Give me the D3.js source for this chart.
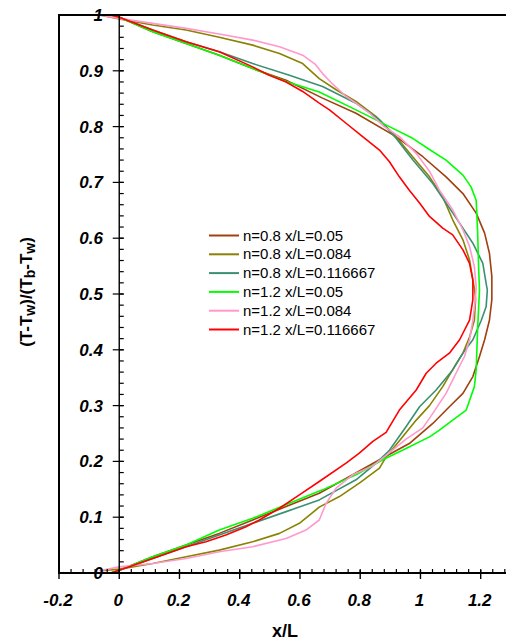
<!DOCTYPE html>
<html>
<head>
<meta charset="utf-8">
<script src="https://cdn.jsdelivr.net/npm/d3@7"></script>
<style>
  html, body { margin: 0; padding: 0; background: #fff; overflow: hidden; }
  svg { display: block; }
</style>
</head>
<body>
<svg id="chart" width="506" height="641"></svg>
<script>
// Dimensionless temperature profiles: [x/L, (T-Tw)/(Tb-Tw)]
const n08_x0050 = [[-0.028,0],[0,0.005],[0.111,0.029],[0.222,0.050],[0.332,0.071],[0.443,0.095],[0.554,0.119],[0.664,0.143],[0.775,0.176],[0.864,0.203],[0.963,0.232],[1.041,0.268],[1.096,0.298],[1.141,0.322],[1.174,0.352],[1.196,0.388],[1.213,0.418],[1.229,0.453],[1.237,0.49],[1.237,0.531],[1.229,0.573],[1.213,0.609],[1.185,0.645],[1.141,0.680],[1.085,0.710],[1.008,0.746],[0.919,0.782],[0.786,0.824],[0.675,0.851],[0.554,0.883],[0.443,0.904],[0.332,0.928],[0.222,0.949],[0.111,0.970],[0,0.996],[-0.028,1]];
const n08_x0084 = [[-0.06,0.004],[0,0.007],[0.111,0.017],[0.222,0.029],[0.332,0.041],[0.443,0.056],[0.532,0.071],[0.598,0.089],[0.664,0.118],[0.731,0.137],[0.797,0.161],[0.864,0.188],[0.886,0.208],[0.941,0.244],[0.986,0.274],[1.030,0.300],[1.074,0.334],[1.113,0.370],[1.141,0.394],[1.163,0.423],[1.179,0.453],[1.183,0.49],[1.180,0.507],[1.174,0.525],[1.163,0.561],[1.141,0.597],[1.107,0.633],[1.074,0.674],[1.030,0.710],[0.974,0.746],[0.919,0.782],[0.853,0.818],[0.786,0.845],[0.720,0.866],[0.664,0.886],[0.609,0.913],[0.532,0.931],[0.443,0.946],[0.332,0.960],[0.222,0.973],[0.111,0.982],[0,0.993],[-0.066,1]];
const n08_x0117 = [[-0.028,0],[0,0.005],[0.111,0.026],[0.222,0.047],[0.332,0.068],[0.443,0.089],[0.554,0.110],[0.664,0.131],[0.786,0.167],[0.853,0.197],[0.897,0.220],[0.952,0.262],[0.997,0.298],[1.052,0.328],[1.107,0.364],[1.141,0.394],[1.174,0.418],[1.202,0.453],[1.218,0.477],[1.222,0.507],[1.218,0.519],[1.207,0.555],[1.174,0.591],[1.130,0.627],[1.085,0.663],[1.041,0.698],[0.975,0.740],[0.919,0.779],[0.864,0.812],[0.786,0.842],[0.675,0.872],[0.565,0.892],[0.443,0.913],[0.332,0.934],[0.222,0.952],[0.111,0.973],[0,0.996],[-0.028,1]];
const n12_x0050 = [[-0.028,0],[0,0.005],[0.111,0.029],[0.222,0.050],[0.332,0.077],[0.443,0.098],[0.565,0.125],[0.675,0.149],[0.786,0.176],[0.875,0.203],[0.952,0.223],[1.030,0.244],[1.063,0.256],[1.107,0.274],[1.152,0.292],[1.179,0.334],[1.185,0.364],[1.190,0.441],[1.196,0.507],[1.193,0.549],[1.190,0.609],[1.185,0.668],[1.168,0.692],[1.141,0.713],[1.085,0.740],[1.030,0.759],[0.974,0.779],[0.897,0.800],[0.786,0.830],[0.664,0.862],[0.554,0.881],[0.443,0.904],[0.332,0.928],[0.222,0.949],[0.111,0.970],[0,0.996],[-0.028,1]];
const n12_x0084 = [[-0.066,0.004],[0,0.011],[0.111,0.017],[0.222,0.026],[0.332,0.038],[0.443,0.047],[0.554,0.062],[0.620,0.077],[0.664,0.095],[0.687,0.125],[0.720,0.152],[0.775,0.176],[0.842,0.192],[0.886,0.211],[0.952,0.240],[1.008,0.260],[1.041,0.286],[1.085,0.322],[1.118,0.358],[1.146,0.388],[1.163,0.418],[1.174,0.453],[1.182,0.49],[1.185,0.513],[1.179,0.549],[1.163,0.585],[1.141,0.615],[1.107,0.651],[1.063,0.686],[1.030,0.720],[0.986,0.752],[0.930,0.782],[0.880,0.800],[0.831,0.824],[0.786,0.842],[0.753,0.854],[0.709,0.876],[0.675,0.895],[0.650,0.912],[0.609,0.928],[0.532,0.943],[0.443,0.955],[0.332,0.966],[0.222,0.976],[0.111,0.985],[0,0.994],[-0.066,1]];
const n12_x0117 = [[-0.028,0],[0,0.005],[0.111,0.026],[0.222,0.047],[0.288,0.056],[0.354,0.068],[0.421,0.083],[0.465,0.095],[0.532,0.116],[0.598,0.140],[0.664,0.164],[0.753,0.197],[0.797,0.215],[0.842,0.236],[0.886,0.252],[0.930,0.292],[0.986,0.328],[1.019,0.358],[1.052,0.376],[1.096,0.394],[1.130,0.418],[1.163,0.453],[1.174,0.490],[1.174,0.525],[1.163,0.555],[1.141,0.579],[1.107,0.606],[1.074,0.618],[1.030,0.639],[0.997,0.663],[0.963,0.686],[0.930,0.710],[0.897,0.737],[0.864,0.758],[0.808,0.782],[0.753,0.806],[0.698,0.830],[0.664,0.842],[0.609,0.863],[0.554,0.880],[0.498,0.892],[0.443,0.907],[0.332,0.934],[0.222,0.952],[0.111,0.973],[0,0.996],[-0.028,1]];

const seriesLabels = ["n=0.8 x/L=0.05", "n=0.8 x/L=0.084", "n=0.8 x/L=0.116667",
                      "n=1.2 x/L=0.05", "n=1.2 x/L=0.084", "n=1.2 x/L=0.116667"];
const seriesColors = ["#A0400F", "#8A8200", "#3A9072", "#00FF00", "#FF99CC", "#FF0000"];
const seriesData = [n08_x0050, n08_x0084, n08_x0117, n12_x0050, n12_x0084, n12_x0117];

const xTickValues = [-0.2, 0, 0.2, 0.4, 0.6, 0.8, 1, 1.2];
const yTickValues = [0, 0.1, 0.2, 0.3, 0.4, 0.5, 0.6, 0.7, 0.8, 0.9, 1];
const xTickLabels = ["-0.2", "0", "0.2", "0.4", "0.6", "0.8", "1", "1.2"];
const yTickLabels = ["0", "0.1", "0.2", "0.3", "0.4", "0.5", "0.6", "0.7", "0.8", "0.9", "1"];

const svg = d3.select("#chart");
const x = d3.scaleLinear().domain([-0.2, 1.2]).range([59, 480.7]);
const y = d3.scaleLinear().domain([0, 1]).range([573, 15]);
const xMax = x(1.3);

const tickFont = "'Liberation Sans', Arial, sans-serif";

// Curves
const line = d3.line().x(d => x(d[0])).y(d => y(d[1]));
svg.append("g").selectAll("path").data(seriesData).join("path")
  .attr("d", line)
  .attr("fill", "none")
  .attr("stroke", (d, i) => seriesColors[i])
  .attr("stroke-width", 1.6)
  .attr("stroke-linejoin", "round");

// Frame: left and top borders, bottom axis
const frame = svg.append("g").attr("stroke", "#000").attr("fill", "none");
frame.append("line").attr("x1", x(-0.2)).attr("x2", x(-0.2)).attr("y1", y(1) - 1).attr("y2", y(0) + 1).attr("stroke-width", 2);
frame.append("line").attr("x1", x(-0.2) - 1).attr("x2", xMax).attr("y1", y(1)).attr("y2", y(1)).attr("stroke-width", 2);
frame.append("line").attr("x1", x(-0.2) - 1).attr("x2", xMax).attr("y1", y(0)).attr("y2", y(0)).attr("stroke-width", 2);
// Vertical axis at x/L = 0
frame.append("line").attr("x1", x(0)).attr("x2", x(0)).attr("y1", y(1)).attr("y2", y(0)).attr("stroke-width", 1.4);

// Y ticks: minor every 0.02 on the right side, major every 0.1 crossing
const yMinor = d3.range(0, 1.0001, 0.02);
frame.append("g").selectAll("line").data(yMinor).join("line")
  .attr("x1", x(0)).attr("x2", x(0) + 4.5)
  .attr("y1", d => y(d)).attr("y2", d => y(d)).attr("stroke-width", 1.2);
frame.append("g").selectAll("line").data(yTickValues.slice(1, -1)).join("line")
  .attr("x1", x(0) - 6.5).attr("x2", x(0) + 4.5)
  .attr("y1", d => y(d)).attr("y2", d => y(d)).attr("stroke-width", 1.2);

// X ticks: minor every 0.04 upward, major every 0.2 downward
const xMinor = d3.range(-0.2, 1.3001, 0.04);
frame.append("g").selectAll("line").data(xMinor).join("line")
  .attr("x1", d => x(d)).attr("x2", d => x(d))
  .attr("y1", y(0) - 4).attr("y2", y(0)).attr("stroke-width", 1.2);
frame.append("g").selectAll("line").data(xTickValues).join("line")
  .attr("x1", d => x(d)).attr("x2", d => x(d))
  .attr("y1", y(0) - 3).attr("y2", y(0) + 6).attr("stroke-width", 1.4);

// Tick labels
svg.append("g").selectAll("text").data(yTickValues).join("text")
  .attr("x", 103).attr("y", d => y(d) + 6)
  .attr("text-anchor", "end")
  .attr("font-family", tickFont).attr("font-size", 17)
  .attr("font-weight", "bold").attr("font-style", "italic")
  .text((d, i) => yTickLabels[i]);

svg.append("g").selectAll("text").data(xTickValues).join("text")
  .attr("x", d => x(d) - 1).attr("y", 606)
  .attr("text-anchor", "middle")
  .attr("font-family", tickFont).attr("font-size", 17)
  .attr("font-weight", "bold").attr("font-style", "italic")
  .text((d, i) => xTickLabels[i]);

// Axis titles
svg.append("text")
  .attr("x", 285).attr("y", 637)
  .attr("text-anchor", "middle")
  .attr("font-family", tickFont).attr("font-size", 18).attr("font-weight", "bold")
  .text("x/L");

const yTitle = svg.append("text")
  .attr("transform", "translate(32,292) rotate(-90)")
  .attr("text-anchor", "middle")
  .attr("font-family", tickFont).attr("font-size", 17).attr("font-weight", "bold");
const parts = [["(T-T", false], ["w", true], [")/(T", false], ["b", true], ["-T", false], ["w", true], [")", false]];
let shifted = false;
parts.forEach(([s, sub]) => {
  const t = yTitle.append("tspan").text(s);
  if (sub) { t.attr("font-size", 14).attr("dy", shifted ? 0 : 3); shifted = true; }
  else if (shifted) { t.attr("dy", -3); shifted = false; }
});

// Legend
const legend = svg.append("g").attr("transform", "translate(209,235.5)");
const rows = legend.selectAll("g").data(seriesLabels).join("g")
  .attr("transform", (d, i) => `translate(0,${i * 18.8})`);
rows.append("line").attr("x1", 0).attr("x2", 30).attr("y1", 0).attr("y2", 0)
  .attr("stroke", (d, i) => seriesColors[i]).attr("stroke-width", 2);
rows.append("text").attr("x", 34).attr("y", 5)
  .attr("font-family", tickFont).attr("font-size", 15)
  .text(d => d);
</script>
</body>
</html>
